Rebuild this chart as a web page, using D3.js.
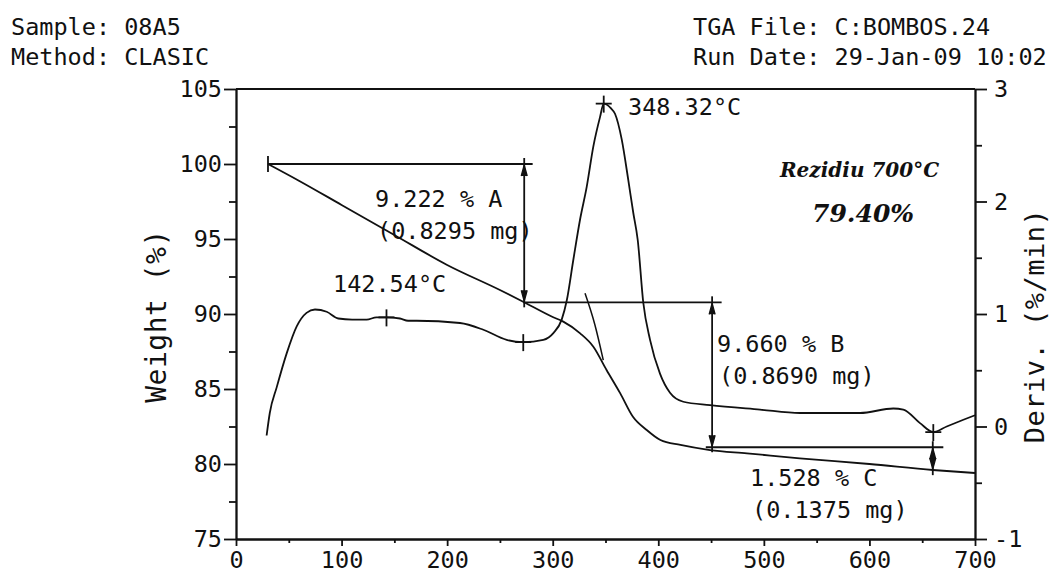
<!DOCTYPE html>
<html><head><meta charset="utf-8">
<script src="https://cdn.jsdelivr.net/npm/d3@7"></script>
<style>
body{margin:0;background:#fff}
svg text{font-family:"DejaVu Sans Mono",monospace;fill:#111}
.axis text{font-size:23.5px}
.axis line,.axis path{stroke:#111;stroke-width:1.8}
</style>
</head><body>
<svg id="c" width="1052" height="576"></svg>
<script>
// ---- data (temperature °C, weight %, derivative %/min) ----
const weightT=[30.3,60,100,150,200,250,272,300,310,326,338.5,351,364,376,389,402,421,449,484,534,600,660,700];
const weightW=[100.0,98.87,97.27,95.27,93.27,91.6,90.82,89.8,89.49,88.71,87.82,86.27,84.71,83.15,82.27,81.6,81.27,80.93,80.71,80.38,80.0,79.6,79.4];
const derivT=[29,32,38.6,48,57.5,66.8,74.8,85.9,96.9,110,123.8,133,142.5,155.3,163,171.2,212.2,234.3,256.4,272.1,291.1,300.6,308.5,313.3,319.5,325.9,332.2,338.5,344.8,348.3,355,359,365.4,371.6,376.3,380.5,385.8,392.2,401.6,411.1,423.7,449,496.4,534.2,591.1,622.6,632.1,647.9,660.5,673.2,689,700];
const derivD=[-0.08,0.12,0.35,0.65,0.89,1.01,1.04,1.02,0.96,0.95,0.95,0.97,0.97,0.96,0.94,0.94,0.92,0.86,0.77,0.75,0.77,0.83,0.95,1.12,1.48,1.84,2.13,2.49,2.75,2.87,2.83,2.78,2.55,2.19,1.9,1.66,1.1,0.77,0.47,0.3,0.22,0.19,0.15,0.12,0.12,0.16,0.15,0.03,-0.05,0.0,0.06,0.1];
const tangentT=[330.6,340,347.9];
const tangentW=[91.38,89.27,86.93];
const markT=[142.54,272.1,348.32,660.5];
const markD=[0.97,0.75,2.87,-0.05];
const markLabels=["142.54°C","","348.32°C",""];
const xTicks=[0,100,200,300,400,500,600,700];
const xMinor=[50,150,250,350,450,550,650];
const wTicks=[75,80,85,90,95,100,105];
const wMinor=[77.5,82.5,87.5,92.5,97.5,102.5];
const dTicks=[-1,0,1,2,3];
const dMinor=[-0.5,0.5,1.5,2.5];
// step analysis
const stepNames=["A","B","C"];
const stepPct=["9.222","9.660","1.528"];
const stepMg=["0.8295","0.8690","0.1375"];
const stepFrom=[100,90.778,81.118];
const stepTo=[90.778,81.118,79.59];
const stepLineT0=[30.3,272,445];
const stepLineT1=[281,460,670];
const stepArrowT=[273,451,660];
const headerLeft=["Sample: 08A5","Method: CLASIC"];
const headerRight=["TGA File: C:BOMBOS.24","Run Date: 29-Jan-09 10:02"];
const noteText=["Rezidiu 700°C","79.40%"];

const svg=d3.select("#c");
const x=d3.scaleLinear().domain([0,700]).range([236,975]);
const yW=d3.scaleLinear().domain([75,105]).range([539,89]);
const yD=d3.scaleLinear().domain([-1,3]).range([539,89]);

// axes
const ax=(g)=>g.attr("class","axis");
svg.append("g").call(ax).attr("transform","translate(0,539)")
  .call(d3.axisBottom(x).tickValues(xTicks).tickSize(7).tickSizeOuter(0).tickPadding(5).tickFormat(d=>String(d)));
svg.append("g").call(ax).attr("transform","translate(0,539)")
  .call(d3.axisBottom(x).tickValues(xMinor).tickSize(4).tickSizeOuter(0).tickFormat(""));
svg.append("g").call(ax).attr("transform","translate(236,0)")
  .call(d3.axisLeft(yW).tickValues(wTicks).tickSize(12).tickSizeOuter(0).tickPadding(2).tickFormat(d=>String(d)));
svg.append("g").call(ax).attr("transform","translate(236,0)")
  .call(d3.axisLeft(yW).tickValues(wMinor).tickSize(7).tickSizeOuter(0).tickFormat(""));
svg.append("g").call(ax).attr("transform","translate(975,0)")
  .call(d3.axisRight(yD).tickValues(dTicks).tickSize(12).tickSizeOuter(0).tickPadding(7).tickFormat(d=>String(d)));
svg.append("g").call(ax).attr("transform","translate(975,0)")
  .call(d3.axisRight(yD).tickValues(dMinor).tickSize(7).tickSizeOuter(0).tickFormat(""));
// top frame
svg.append("line").attr("x1",x(0)).attr("x2",x(700)).attr("y1",yW(105)).attr("y2",yW(105))
  .attr("stroke","#111").attr("stroke-width",1.8);

// curves
const lineW=d3.line().x((d,i)=>x(weightT[i])).y(d=>yW(d)).curve(d3.curveMonotoneX);
const lineD=d3.line().x((d,i)=>x(derivT[i])).y(d=>yD(d)).curve(d3.curveMonotoneX);
svg.append("path").attr("d",lineW(weightW)).attr("fill","none").attr("stroke","#111").attr("stroke-width",1.8);
svg.append("path").attr("d",lineD(derivD)).attr("fill","none").attr("stroke","#111").attr("stroke-width",1.8);
const lineTan=d3.line().x((d,i)=>x(tangentT[i])).y(d=>yW(d)).curve(d3.curveMonotoneX);
svg.append("path").attr("d",lineTan(tangentW)).attr("fill","none").attr("stroke","#111").attr("stroke-width",1.5);

// markers
const S=(sel)=>sel.attr("stroke","#111").attr("stroke-width",1.8);
markT.forEach((t,i)=>{
  const px=x(t),py=yD(markD[i]);
  svg.append("line").attr("x1",px-8).attr("x2",px+8).attr("y1",py).attr("y2",py).call(S);
  svg.append("line").attr("x1",px).attr("x2",px).attr("y1",py-8).attr("y2",py+9).call(S);
});
svg.append("line").attr("x1",x(weightT[0])).attr("x2",x(weightT[0])).attr("y1",yW(weightW[0])-8).attr("y2",yW(weightW[0])+8).call(S);

// step annotations
function arrowHead(px,py,dir){
  svg.append("path").attr("d",`M${px-3},${py-dir*11}L${px},${py}L${px+3},${py-dir*11}`)
    .attr("fill","#111").attr("stroke","#111").attr("stroke-width",1.3);
}
stepNames.forEach((n,i)=>{
  const y0=yW(stepFrom[i]),y1=yW(stepTo[i]),ax0=x(stepArrowT[i]);
  svg.append("line").attr("x1",x(stepLineT0[i])).attr("x2",x(stepLineT1[i])).attr("y1",y0).attr("y2",y0).call(S);
  svg.append("line").attr("x1",ax0).attr("x2",ax0).attr("y1",y0-6).attr("y2",y1+5).call(S);
  arrowHead(ax0,y0+1,-1);
  arrowHead(ax0,y1-1,1);
});
const stepLabelX=[375,717,750];
const stepLabelY=[207,352,486];
stepNames.forEach((n,i)=>{
  svg.append("text").attr("x",stepLabelX[i]).attr("y",stepLabelY[i]).style("font-size","23.5px")
    .text(`${stepPct[i]} % ${n}`);
  svg.append("text").attr("x",stepLabelX[i]+2).attr("y",stepLabelY[i]+32).style("font-size","23.5px")
    .text(`(${stepMg[i]} mg)`);
});
const markLabelX=[333,0,628,0];
const markLabelY=[292,0,115,0];
markLabels.forEach((l,i)=>{ if(l) svg.append("text").attr("x",markLabelX[i]).attr("y",markLabelY[i]).style("font-size","23.5px").text(l); });

// header
headerLeft.forEach((t,i)=>svg.append("text").attr("x",11).attr("y",35+i*30).style("font-size","23.5px").text(t));
headerRight.forEach((t,i)=>svg.append("text").attr("x",693).attr("y",35+i*30).style("font-size","23.5px").text(t));

// axis titles
svg.append("text").attr("transform","translate(166,316) rotate(-90)").attr("text-anchor","middle")
  .style("font-size","28px").style("letter-spacing","0.5px").text("Weight (%)");
svg.append("text").attr("transform","translate(1044,326) rotate(-90)").attr("text-anchor","middle")
  .style("font-size","27px").style("letter-spacing","0.5px").text("Deriv. (%/min)");

// handwritten note
svg.append("text").attr("x",780).attr("y",177).style("font-family","'DejaVu Serif',serif").style("font-style","italic")
  .style("font-weight","bold").style("font-size","20px").text(noteText[0]);
svg.append("text").attr("x",812).attr("y",222).style("font-family","'DejaVu Serif',serif").style("font-style","italic")
  .style("font-weight","bold").style("font-size","25px").text(noteText[1]);
</script>
</body></html>
